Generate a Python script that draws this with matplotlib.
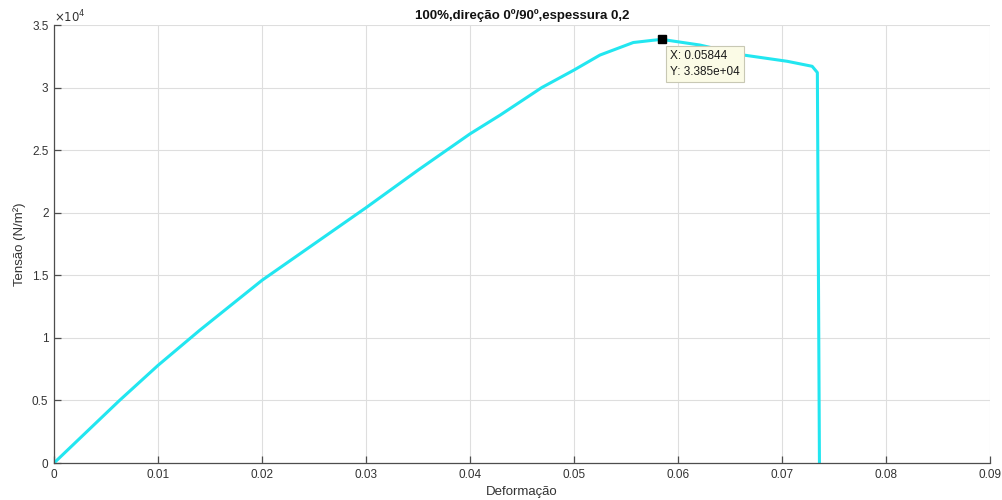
import matplotlib
matplotlib.use("Agg")
import matplotlib.pyplot as plt
from matplotlib.ticker import FuncFormatter

plt.rcParams["font.family"] = ["Liberation Sans", "DejaVu Sans"]

# Stress-strain curve (strain, stress in N/m^2)
deformacao = [0, 0.0063, 0.0100, 0.0140, 0.0200, 0.0250, 0.0300, 0.0350,
              0.0400, 0.0429, 0.0469, 0.0500, 0.0525, 0.0557, 0.0576, 0.05844,
              0.0621, 0.0663, 0.0705, 0.0729, 0.0734, 0.0736]
tensao = [0, 5000, 7800, 10600, 14600, 17500, 20400, 23400,
          26300, 27800, 30000, 31400, 32600, 33600, 33780, 33850,
          33400, 32600, 32100, 31700, 31200, 0]

# Data tip at the maximum
pico_x = 0.05844
pico_y = 3.385e4

x_ticks = [0, 0.01, 0.02, 0.03, 0.04, 0.05, 0.06, 0.07, 0.08, 0.09]
y_ticks = [0, 5000, 10000, 15000, 20000, 25000, 30000, 35000]

fig = plt.figure(figsize=(10.02, 5.0), dpi=100)
ax = fig.add_axes([54 / 1002, 37 / 500, 936 / 1002, 438 / 500])

ax.plot(deformacao, tensao, color="#22e6f0", lw=2.2, solid_joinstyle="round")
ax.plot([pico_x], [pico_y], marker="s", color="black", markersize=6)

ax.annotate(f"X: {pico_x:.5g}\nY: {pico_y:.3e}",
            xy=(pico_x, pico_y), xytext=(8, -11), textcoords="offset pixels",
            ha="left", va="top", fontsize=8.5, color="#1a1a1a", linespacing=1.35,
            bbox=dict(boxstyle="square,pad=0.35", fc="#fbfbe6", ec="#c8c8b4", lw=0.8))

ax.set_xlim(0, 0.09)
ax.set_ylim(0, 35000)
ax.set_xticks(x_ticks)
ax.set_yticks(y_ticks)
ax.xaxis.set_major_formatter(FuncFormatter(lambda v, p: f"{v:g}"))
ax.yaxis.set_major_formatter(FuncFormatter(lambda v, p: f"{v / 1e4:g}"))

ax.grid(True, color="#dedede", lw=0.8)
ax.set_axisbelow(True)
for s in ["top", "right"]:
    ax.spines[s].set_visible(False)
for s in ["left", "bottom"]:
    ax.spines[s].set_color("#4d4d4d")
    ax.spines[s].set_linewidth(0.9)
ax.tick_params(direction="in", length=5, width=0.9, color="#4d4d4d",
               labelsize=8.5, labelcolor="#333333", pad=4)

ax.text(0.0, 1.006, r"$\times10^{4}$", transform=ax.transAxes, fontsize=8.5,
        color="#333333", ha="left", va="baseline")

ax.set_title("100%,direção 0º/90º,espessura 0,2", fontsize=9.5,
             fontweight="bold", color="#111111", pad=4)
ax.set_xlabel("Deformação", fontsize=9.5, color="#333333", labelpad=4)
ax.set_ylabel("Tensão (N/m²)", fontsize=9.5, color="#333333", labelpad=4)

fig.savefig("out.png", dpi=100)
